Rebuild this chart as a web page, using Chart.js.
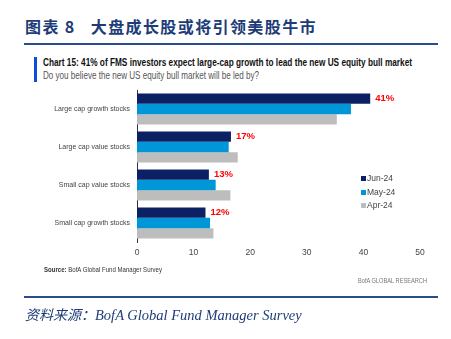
<!DOCTYPE html>
<html>
<head>
<meta charset="utf-8">
<script src="https://cdn.jsdelivr.net/npm/chart.js@4"></script>
<style>
  body { margin: 0; width: 451px; height: 339px; background: #fff; position: relative; overflow: hidden; }
  .abs { position: absolute; white-space: nowrap; transform-origin: 0 0; }
  #head { left: 25px; top: 14px; font: bold 16px "Noto Sans CJK SC", serif; color: #1d3c78; letter-spacing: 1.4px; }
  .rule { position: absolute; left: 24px; width: 414px; height: 2px; background: #2a4d8c; }
  #bar { left: 34px; top: 57px; width: 3px; height: 25px; background: #0b4fd6; }
  #t1 { left: 43px; top: 57px; font: bold 10px "Liberation Sans", sans-serif; color: #111; }
  #t2 { left: 43px; top: 70px; font: 10px "Liberation Sans", sans-serif; color: #555; }
  #src { left: 44px; top: 266px; font: 7px "Liberation Sans", sans-serif; color: #333; }
  #bofa { left: 358px; top: 277px; font: 7px "Liberation Sans", sans-serif; color: #777; }
  #foot { left: 25px; top: 304px; font: italic 14.5px "Liberation Serif", serif; color: #1d3c78; }
  #legend { left: 361px; top: 172px; font: 8.5px "Liberation Sans", sans-serif; color: #444; line-height: 13.5px; }
  #legend span.sw { display: inline-block; width: 5px; height: 5px; margin-right: 1px; }
  canvas { position: absolute; left: 0; top: 0; }
</style>
</head>
<body>
<div class="abs" id="head">图表 8&nbsp;&nbsp;&nbsp;大盘成长股或将引领美股牛市</div>
<div class="rule" style="top:43px"></div>
<div class="abs" id="bar"></div>
<div class="abs" id="t1" data-w="369">Chart 15: 41% of FMS investors expect large-cap growth to lead the new US equity bull market</div>
<div class="abs" id="t2" data-w="216">Do you believe the new US equity bull market will be led by?</div>
<canvas id="c" width="451" height="339"></canvas>
<div class="abs" id="legend"></div>
<div class="abs" id="src" data-w="118"><b>Source:</b> BofA Global Fund Manager Survey</div>
<div class="abs" id="bofa" data-w="69">BofA GLOBAL RESEARCH</div>
<div class="rule" style="top:296px"></div>
<div class="abs" id="foot"><span style="font-family:'Noto Sans CJK SC';font-size:14px;">资料来源：</span>BofA Global Fund Manager Survey</div>
<script>
// categories and series (% of FMS investors)
const categories = ['Large cap growth stocks', 'Large cap value stocks', 'Small cap value stocks', 'Small cap growth stocks'];
const seriesNames = ['Jun-24', 'May-24', 'Apr-24'];
const jun24 = [41.2, 16.6, 12.7, 12.1];
const may24 = [37.8, 16.2, 13.9, 12.9];
const apr24 = [35.3, 17.8, 16.5, 13.5];
const junLabels = ['41%', '17%', '13%', '12%'];
const xTicks = [0, 10, 20, 30, 40, 50];

const colors = ['#0c2163', '#0097d8', '#bdbdbd'];
const font = '"Liberation Sans", sans-serif';

// squeeze the narrow-font texts to their width in the original
document.querySelectorAll('[data-w]').forEach(el => {
    const w = el.getBoundingClientRect().width;
    el.style.transform = `scaleX(${el.dataset.w / w})`;
});

// legend as html
const legend = document.getElementById('legend');
seriesNames.forEach((name, i) => {
    legend.innerHTML += `<div><span class="sw" style="background:${colors[i]}"></span>${name}</div>`;
});

// red value labels next to the Jun bars
const valueLabels = {
    id: 'valueLabels',
    afterDatasetsDraw(chart) {
        const ctx = chart.ctx;
        const meta = chart.getDatasetMeta(0);
        ctx.save();
        ctx.font = 'bold 9.5px ' + font;
        ctx.fillStyle = '#f00';
        ctx.textBaseline = 'middle';
        meta.data.forEach((bar, i) => {
            ctx.fillText(junLabels[i], bar.x + 5, bar.y);
        });
        ctx.restore();
    }
};

new Chart(document.getElementById('c'), {
    type: 'bar',
    data: {
        labels: categories,
        datasets: [
            { label: seriesNames[0], data: jun24, backgroundColor: colors[0] },
            { label: seriesNames[1], data: may24, backgroundColor: colors[1] },
            { label: seriesNames[2], data: apr24, backgroundColor: colors[2] }
        ]
    },
    options: {
        indexAxis: 'y',
        responsive: false,
        animation: false,
        layout: { padding: { top: 90, right: 31, bottom: 77, left: 0 } },
        datasets: { bar: { categoryPercentage: 0.82, barPercentage: 1 } },
        scales: {
            x: {
                min: 0, max: 50,
                afterBuildTicks(scale) { scale.ticks = xTicks.map(v => ({ value: v })); },
                afterFit(scale) { scale.height = 20; },
                grid: { display: false, drawTicks: false },
                border: { display: false },
                ticks: { color: '#444', font: { family: font, size: 8.5 }, padding: 6 }
            },
            y: {
                afterFit(scale) { scale.width = 137; },
                grid: { display: false, drawTicks: false },
                border: { display: true, color: '#333', width: 1 },
                ticks: { color: '#444', font: { family: font, size: 7 }, padding: 7 }
            }
        },
        plugins: { legend: { display: false }, tooltip: { enabled: false } }
    },
    plugins: [valueLabels]
});
</script>
</body>
</html>
